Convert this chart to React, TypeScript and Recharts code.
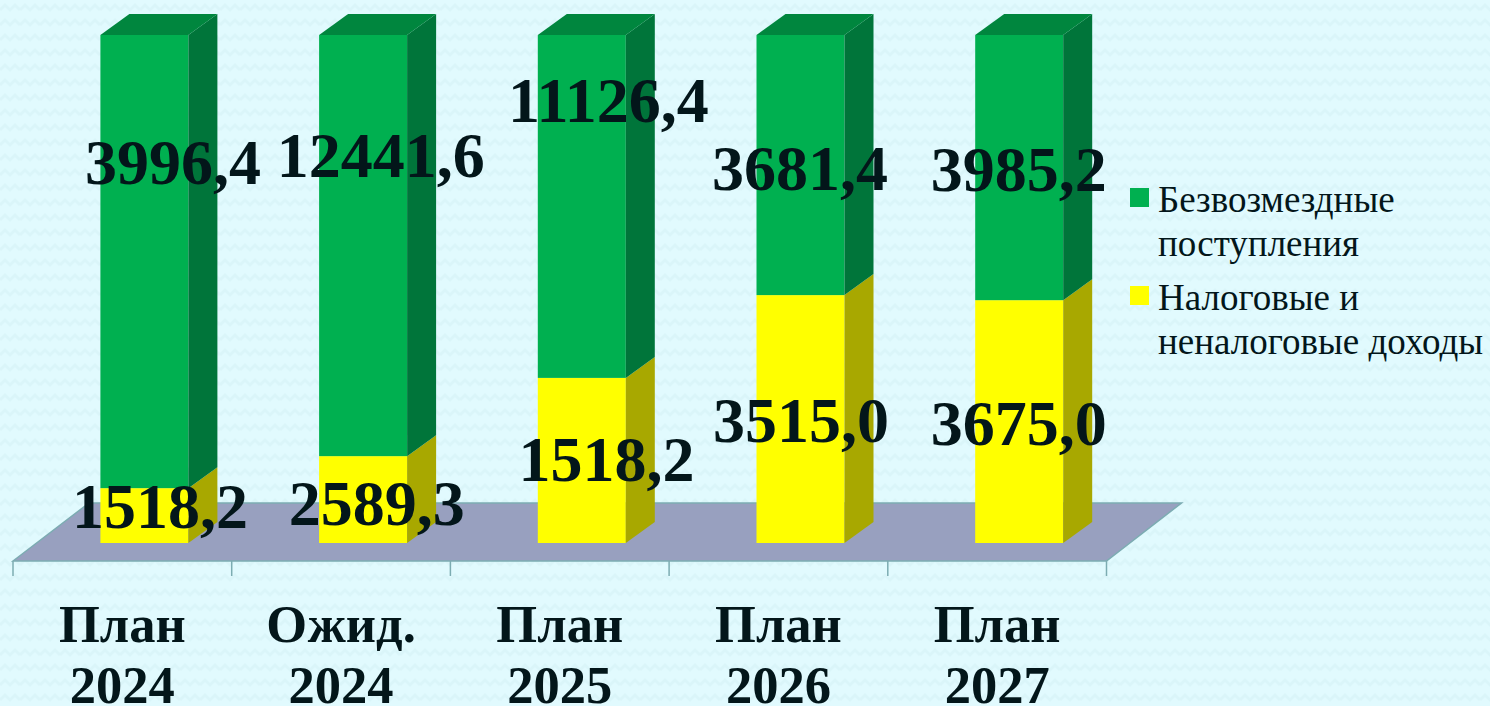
import { Bar, BarChart, Legend, LabelList, XAxis, YAxis, usePlotArea } from "recharts";

// shares of the bar height (%)
const categories = ["План\n2024", "Ожид.\n2024", "План\n2025", "План\n2026", "План\n2027"];
const nonGrant = [10.8, 17.1, 32.5, 48.8, 47.8];
const grant = [89.2, 82.9, 67.5, 51.2, 52.2];
const nonGrantLabels = ["1518,2", "2589,3", "1518,2", "3515,0", "3675,0"];
const grantLabels = ["3996,4", "12441,6", "11126,4", "3681,4", "3985,2"];

// hand-moved labels in the original, offset from the bar segment centre
const nonGrantShift = [[38, -9], [36, 4], [47, -1], [23, 1.5], [22, 2]];
const grantShift = [[51, -99], [40, -90], [49, -106], [22, 3], [22, 2]];

const data = categories.map((name, i) => ({ name, nonGrant: nonGrant[i], grant: grant[i] }));

const DEPTH_X = 29;
const DEPTH_Y = 21;
const BAR_SHIFT = 22.4;
const TEXT = "#03161a";
const SERIF = "'Liberation Serif', serif";

const wave =
  "<svg xmlns='http://www.w3.org/2000/svg' width='20' height='15'><path d='M0 10 L5 5 L10 10 L15 5 L20 10' fill='none' stroke='#daf5f9' stroke-width='3'/></svg>";

function Box(props: any) {
  const { x, y, width, height, fill, side, top } = props;
  const left = x + BAR_SHIFT;
  const right = left + width;
  return (
    <g>
      <rect x={left} y={y} width={width} height={height} fill={fill} />
      <polygon
        points={`${right},${y + height} ${right + DEPTH_X},${y + height - DEPTH_Y} ${right + DEPTH_X},${y - DEPTH_Y} ${right},${y}`}
        fill={side}
      />
      {top && (
        <polygon
          points={`${left},${y} ${left + DEPTH_X},${y - DEPTH_Y} ${right + DEPTH_X},${y - DEPTH_Y} ${right},${y}`}
          fill={top}
        />
      )}
    </g>
  );
}

function Floor() {
  const plot = usePlotArea();
  if (!plot) return null;
  const { x, y, width, height } = plot;
  const front = y + height + 18;
  const back = y + height - 40;
  const band = width / categories.length;
  return (
    <g>
      <polygon
        points={`${x},${front} ${x + 76},${back} ${x + width + 75},${back} ${x + width},${front}`}
        fill="#98a0bf"
        stroke="#7cacb2"
        strokeWidth={1.5}
      />
      {[...categories, ""].map((_, i) => (
        <line key={i} x1={x + i * band} x2={x + i * band} y1={front} y2={front + 15} stroke="#7cacb2" strokeWidth={1.5} />
      ))}
    </g>
  );
}

function CategoryTick({ x, payload }: any) {
  const [first, second] = String(payload.value).split("\n");
  return (
    <text textAnchor="middle" fontFamily={SERIF} fontWeight="bold" fontSize={52.5} fill={TEXT}>
      <tspan x={x} y={642}>{first}</tspan>
      <tspan x={x} y={703}>{second}</tspan>
    </text>
  );
}

const valueLabel = (texts: string[], shifts: number[][]) => (props: any) => {
  const { x, y, width, height, index } = props;
  return (
    <text
      x={x + width / 2 + shifts[index][0]}
      y={y + height / 2 + shifts[index][1]}
      textAnchor="middle"
      dominantBaseline="central"
      fontFamily={SERIF}
      fontWeight="bold"
      fontSize={64}
      fill={TEXT}
    >
      {texts[index]}
    </text>
  );
};

function LegendBox({ payload }: any) {
  return (
    <div style={{ fontFamily: SERIF, fontSize: 37, lineHeight: "44px", color: TEXT, width: 360 }}>
      {(payload ?? []).map((item: any) => (
        <div key={item.value} style={{ position: "relative", paddingLeft: 28, marginBottom: 10 }}>
          <span style={{ position: "absolute", left: 0, top: 10, width: 19, height: 19, background: item.color }} />
          {item.value}
        </div>
      ))}
    </div>
  );
}

export default function App() {
  return (
    <div
      style={{
        position: "fixed",
        left: 0,
        top: 0,
        width: 1490,
        height: 706,
        overflow: "hidden",
        backgroundColor: "#e1fafe",
        backgroundImage: `url("data:image/svg+xml,${encodeURIComponent(wave)}")`,
      }}
    >
      <BarChart
        width={1490}
        height={706}
        data={data}
        margin={{ top: 35, right: 383.5, bottom: 0, left: 13 }}
        barSize={88}
      >
        <Floor />
        <XAxis dataKey="name" height={163} axisLine={false} tickLine={false} tick={<CategoryTick />} interval={0} />
        <YAxis hide domain={[0, 100]} />
        <Legend
          layout="vertical"
          align="center"
          verticalAlign="middle"
          wrapperStyle={{ left: 1130, top: 178, width: 360 }}
          content={<LegendBox />}
        />
        <Bar
          dataKey="nonGrant"
          name="Налоговые и неналоговые доходы"
          stackId="a"
          fill="#ffff00"
          shape={<Box side="#a8a800" />}
          isAnimationActive={false}
        >
          <LabelList content={valueLabel(nonGrantLabels, nonGrantShift)} />
        </Bar>
        <Bar
          dataKey="grant"
          name="Безвозмездные поступления"
          stackId="a"
          fill="#00b050"
          shape={<Box side="#00753a" top="#00863e" />}
          isAnimationActive={false}
        >
          <LabelList content={valueLabel(grantLabels, grantShift)} />
        </Bar>
      </BarChart>
    </div>
  );
}
